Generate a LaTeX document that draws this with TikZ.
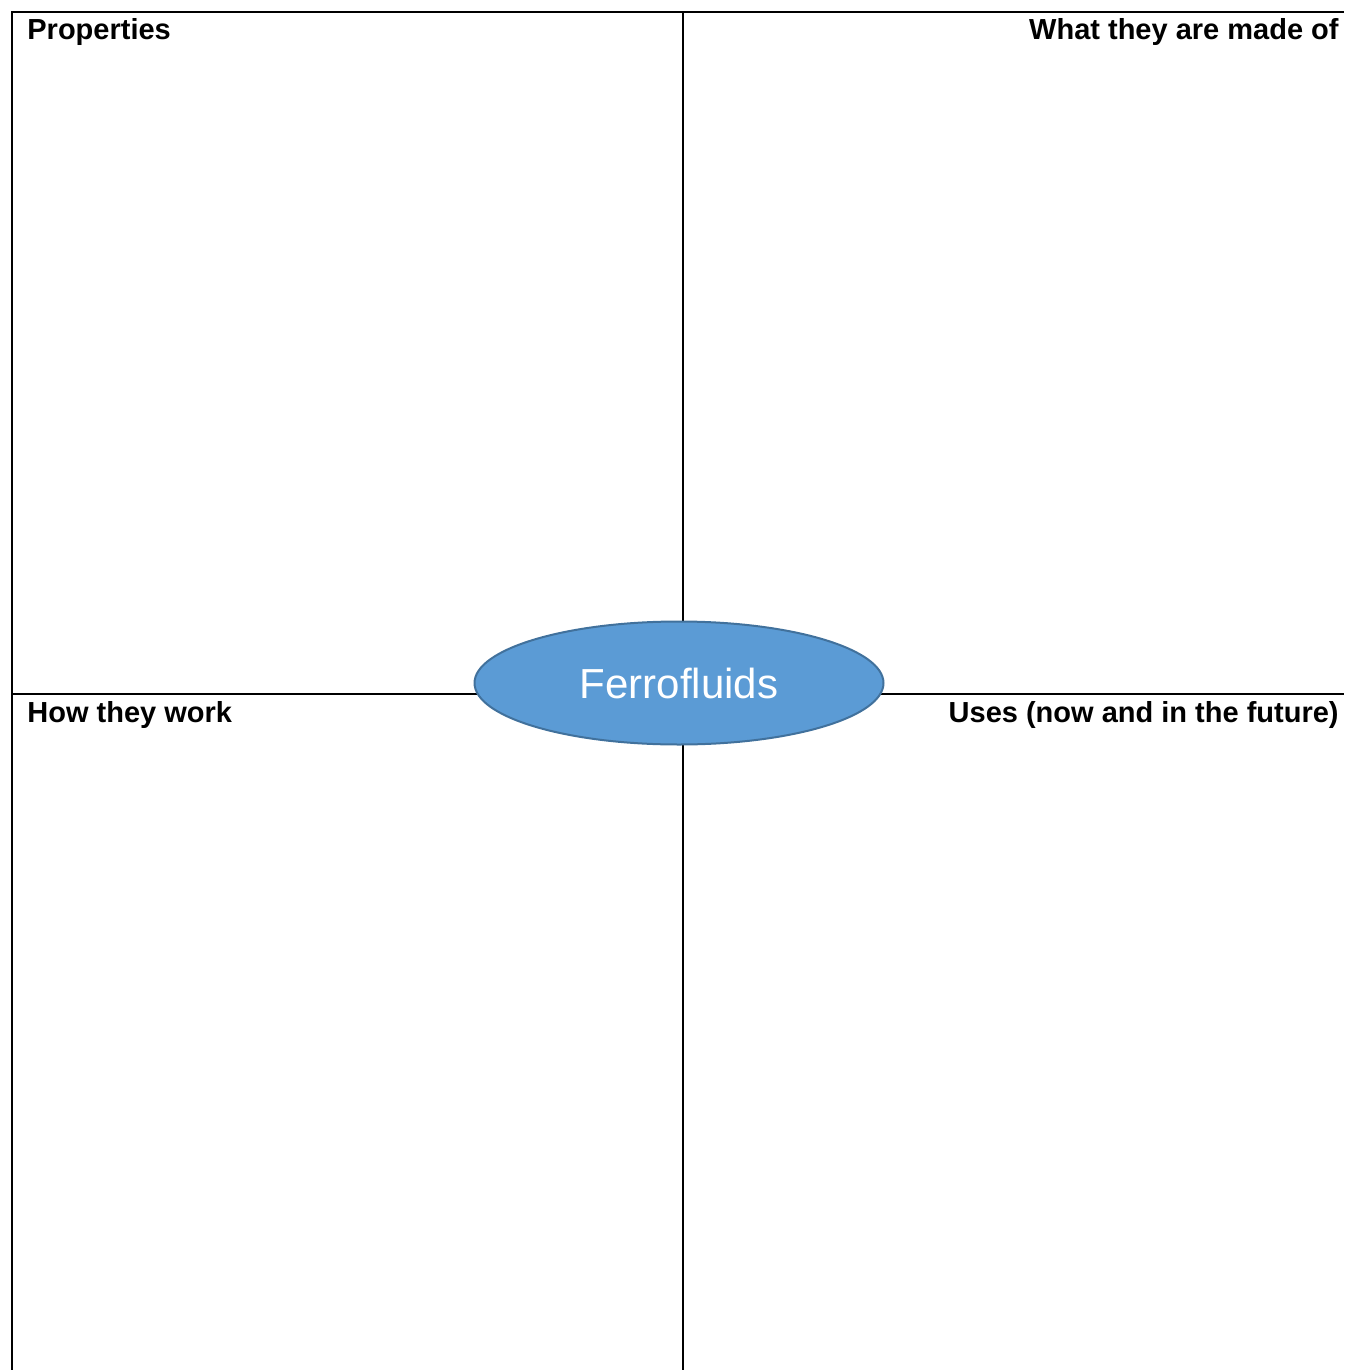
\documentclass[tikz,border=0pt]{standalone}
\usepackage{fontspec}
\setmainfont{Liberation Sans}
\usetikzlibrary{shapes.geometric,positioning}
\definecolor{ferroblue}{HTML}{5B9BD5}
\definecolor{ferroedge}{HTML}{41719C}

\begin{document}
\begin{tikzpicture}[x=0.5pt,y=-0.5pt,
	heading/.style={font=\fontsize{14.5}{17}\selectfont\bfseries,inner sep=0pt},
	gridline/.style={line width=1pt}]
		\useasboundingbox (0,0) rectangle (1344,1370);
		% frame and quadrants
		\coordinate (topleft) at (12,12);
		\coordinate (topmid) at (683,12);
		\coordinate (midleft) at (12,694);
		\draw[gridline] (12,1370) -- (topleft) -- (1344,12);
		\draw[gridline] (topmid) -- (683,1370);
		\draw[gridline] (midleft) -- (1344,694);
		% headings
		\node[heading,anchor=base west] (props) at (27,40) {Properties};
		\node[heading,anchor=base east] (made) at (1339,40) {What they are made of};
		\node[heading,anchor=base west] (work) at (27,722) {How they work};
		\node[heading,anchor=base east] (uses) at (1339,722) {Uses (now and in the future)};
		% centre
		\node[ellipse,draw=ferroedge,fill=ferroblue,line width=1pt,
			minimum width=204.5pt,minimum height=61.5pt,inner sep=0pt,
			text=white,font=\fontsize{21}{25}\selectfont] (ferro) at (679,683) {Ferrofluids};
	\end{tikzpicture}
\end{document}
